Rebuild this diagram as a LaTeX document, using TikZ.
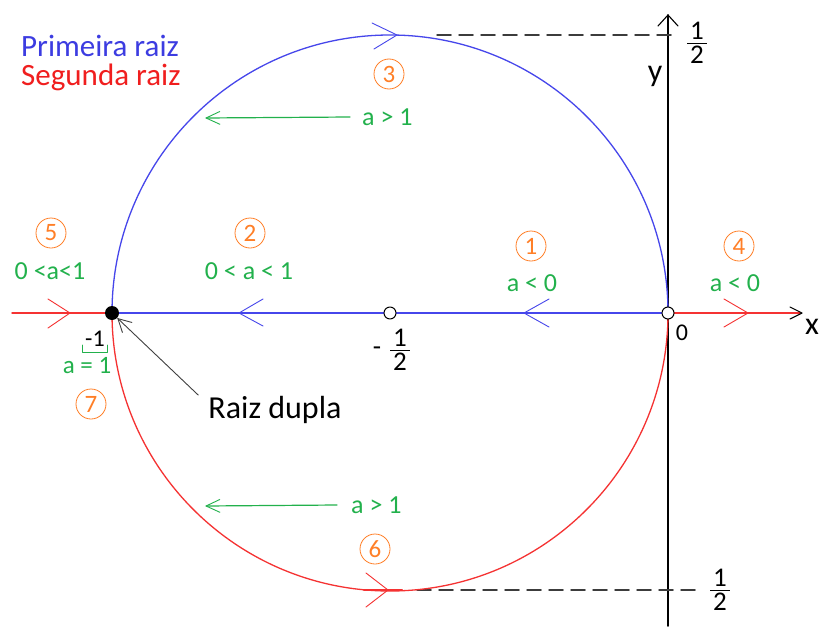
\documentclass[tikz,border=0pt]{standalone}
\usepackage{fontspec}
\setmainfont{Carlito}
\usetikzlibrary{arrows.meta}
\definecolor{bluec}{RGB}{70,70,235}
\definecolor{redc}{RGB}{245,50,50}
\definecolor{greenc}{RGB}{34,177,76}
\definecolor{orangec}{RGB}{255,127,39}
\definecolor{dashc}{RGB}{60,60,60}
\definecolor{bluetxt}{RGB}{60,60,225}
\definecolor{redtxt}{RGB}{240,30,30}
\newcommand{\myfrac}[2]{\begin{tabular}{@{\hspace{3pt}}c@{\hspace{3pt}}}#1\\[-4pt]\hline\rule{0pt}{20pt}#2\end{tabular}}
\begin{document}
\begin{tikzpicture}[x=1pt,y=-1pt,line cap=round,line join=round]
\tikzset{
  num/.style={circle,draw=orangec,text=orangec,line width=0.8pt,minimum size=30pt,inner sep=0pt,font=\fontsize{25}{25}\selectfont},
  cond/.style={text=greenc,inner sep=0pt,font=\fontsize{26}{26}\selectfont},
  lbl/.style={text=black,inner sep=0pt,font=\fontsize{27}{27}\selectfont},
  chevb/.style={bluec,line width=0.9pt},
  chevr/.style={redc,line width=0.9pt},
  greenarrow/.style={greenc,line width=1.2pt,-{Straight Barb[length=14pt,width=13pt,line width=0.9pt]}},
  hole/.style={circle,draw=black,fill=white,line width=1pt,minimum size=12pt,inner sep=0pt},
  dashline/.style={dashc,line width=1.5pt,dash pattern=on 14pt off 8pt},
}
\useasboundingbox (0,0) rectangle (821,626);
\fill[white] (0,0) rectangle (821,626);

% y axis
\coordinate (ybot) at (668,626);
\coordinate (ytop) at (668,15);
\draw[black,line width=1.6pt] (ybot) -- (ytop);
\draw[black,line width=1.1pt] (658,26) -- (ytop) -- (678,26);

% dashed lines
\draw[dashline] (437,35) -- (676,35);
\draw[dashline] (417,590) -- (702,590);

% x axis pieces
\draw[redc,line width=1.4pt] (12,313) -- (112,313);
\draw[bluec,line width=1.4pt] (112,313) -- (668,313);
\draw[redc,line width=1.4pt] (668,313) -- (800,313);
\draw[black,line width=1.1pt] (790,307) -- (802,313) -- (790,319);

% circle
\draw[bluec,line width=1.3pt] (112,313) arc[start angle=180,end angle=360,radius=278];
\draw[redc,line width=1.3pt] (112,313) arc[start angle=180,end angle=0,radius=278];

% chevrons on the curves
\draw[chevb] (372,23) -- (397,35) -- (374,49);
\draw[chevr] (366,573) -- (388,590) -- (366,607);
\draw[redc,line width=2.2pt] (364,590) -- (402,590);
\draw[chevr] (48,299) -- (70,313) -- (48,328);
\draw[chevb] (263,299) -- (239,313) -- (263,326);
\draw[chevb] (549,299) -- (524,313) -- (549,327);
\draw[chevr] (724,299) -- (748,313) -- (724,327);

% points
\node[hole] (half) at (390,313) {};
\node[hole] (origin) at (668,313) {};
\node[circle,fill=black,minimum size=14pt,inner sep=0pt] (dot) at (112,313) {};

% legend
\node[anchor=west,inner sep=0pt,text=bluetxt,font=\fontsize{31}{31}\selectfont] (leg1) at (21,46) {Primeira raiz};
\node[anchor=west,inner sep=0pt,text=redtxt,font=\fontsize{31}{31}\selectfont] (leg2) at (21,77) {Segunda raiz};

% axis labels
\node[inner sep=0pt,font=\fontsize{32}{32}\selectfont] (ylab) at (655,76) {y};
\node[inner sep=0pt,font=\fontsize{32}{32}\selectfont] (xlab) at (812,327) {x};
\node[inner sep=0pt,font=\fontsize{24}{24}\selectfont] (zero) at (682,333) {0};
\node[lbl] (ftop) at (697,46) {\myfrac{1}{2}};
\node[lbl] (fbot) at (720,593) {\myfrac{1}{2}};
\node[lbl] (fhalf) at (400,353) {\myfrac{1}{2}};
\node[lbl] (minus) at (377,351) {-};
\node[inner sep=0pt,font=\fontsize{24}{24}\selectfont] (m1) at (95,339) {-1};
\draw[greenc,line width=1pt] (82,345) -- (82,352) -- (107,352) -- (107,345);
\node[cond,font=\fontsize{25}{25}\selectfont] (aeq) at (87,366) {a = 1};

% circled numbers
\node[num] (n1) at (531,246) {1};
\node[num] (n2) at (250,233) {2};
\node[num] (n3) at (389,74) {3};
\node[num] (n4) at (739,246) {4};
\node[num] (n5) at (51,233) {5};
\node[num] (n6) at (375,549) {6};
\node[num] (n7) at (91,404) {7};

% conditions
\node[cond] (c5) at (50,271) {0 <a<1};
\node[cond] (c2) at (249,271) {0 < a < 1};
\node[cond] (c1) at (532,283) {a < 0};
\node[cond] (c4) at (735,283) {a < 0};
\node[cond,anchor=west] (c3) at (362,117) {a > 1};
\node[cond,anchor=west] (c6) at (351,505) {a > 1};
\coordinate (g3) at (205,118);
\coordinate (g6) at (205,506);
\draw[greenarrow] ([xshift=-12pt]c3.west) -- (g3);
\draw[greenarrow] ([xshift=-14pt]c6.west) -- (g6);

% double root
\node[inner sep=0pt,font=\fontsize{32}{32}\selectfont] (rd) at (275,410) {Raiz dupla};
\draw[black!75,line width=0.9pt,-{Straight Barb[length=13pt,width=14pt,line width=0.9pt]}] ([xshift=-10pt,yshift=1pt]rd.north west) -- (dot);
\end{tikzpicture}
\end{document}
